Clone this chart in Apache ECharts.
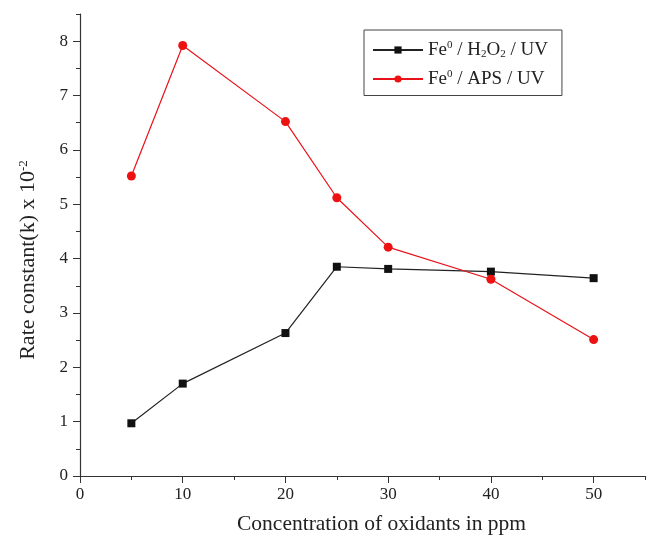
<!DOCTYPE html>
<html>
<head>
<meta charset="utf-8">
<script src="https://cdn.jsdelivr.net/npm/echarts@6/dist/echarts.min.js"></script>
<style>
  html, body { margin: 0; padding: 0; background: #fff; }
  #chart { width: 649px; height: 537px; }
</style>
</head>
<body>
<div id="chart"></div>
<script>
// oxidant concentration (ppm)
var concentration = [5, 10, 20, 25, 30, 40, 50];
// rate constants x 10^-2
var h2o2Rates = [0.97, 1.70, 2.63, 3.85, 3.81, 3.76, 3.64];
var apsRates = [5.52, 7.92, 6.52, 5.12, 4.21, 3.62, 2.51];
var xTicks = [0, 10, 20, 30, 40, 50];
var yTicks = [0, 1, 2, 3, 4, 5, 6, 7, 8];

var font = '"Liberation Serif", "Times New Roman", serif';
var chart = echarts.init(document.getElementById('chart'));

function pairs(xs, ys) {
  return xs.map(function (x, i) { return [x, ys[i]]; });
}

var axisLine = { show: true, lineStyle: { color: '#333', width: 1.2 } };
var rich = {
  a: { fontFamily: font, fontSize: 19, color: '#222' },
  sup: { fontFamily: font, fontSize: 11, color: '#222', verticalAlign: 'top', padding: [0, 0, 9, 0] },
  sub: { fontFamily: font, fontSize: 11, color: '#222', verticalAlign: 'bottom', padding: [9, 0, 0, 0] }
};

chart.setOption({
  animation: false,
  grid: { left: 80, right: 4, top: 14, bottom: 61, outerBoundsMode: 'none' },
  legend: {
    left: 364, top: 30,
    width: 198,
    orient: 'vertical',
    padding: [10, 14, 7, 8],
    itemGap: 9,
    itemWidth: 50, itemHeight: 9,
    borderColor: '#444', borderWidth: 1,
    backgroundColor: '#fff',
    data: ['h2o2', 'aps'],
    formatter: function (name) {
      if (name === 'h2o2') return '{a|Fe}{sup|0}{a| / H}{sub|2}{a|O}{sub|2}{a| / UV}';
      return '{a|Fe}{sup|0}{a| / APS / UV}';
    },
    textStyle: { rich: rich, fontFamily: font, fontSize: 19 }
  },
  xAxis: [{
    type: 'value', min: 0, max: 55,
    name: 'Concentration of oxidants in ppm',
    nameLocation: 'middle', nameGap: 37,
    nameTextStyle: { fontFamily: font, fontSize: 21.5, color: '#222', padding: [0, 0, 0, 38] },
    axisLine: axisLine,
    axisTick: { show: true, length: 7, customValues: xTicks, lineStyle: { color: '#333' } },
    axisLabel: { customValues: xTicks, fontFamily: font, fontSize: 17, color: '#222', margin: 10 },
    splitLine: { show: false }
  }, {
    type: 'value', min: 0, max: 55, interval: 5,
    position: 'bottom',
    axisLine: { show: false },
    axisTick: { show: true, length: 4, lineStyle: { color: '#333' } },
    axisLabel: { show: false },
    splitLine: { show: false }
  }],
  yAxis: [{
    type: 'value', min: 0, max: 8.5,
    name: '{a|Rate constant(k) x 10}{sup|-2}',
    nameLocation: 'middle', nameGap: 40,
    nameTextStyle: {
      padding: [0, 30, 0, 0],
      rich: {
        a: { fontFamily: font, fontSize: 22, color: '#222' },
        sup: { fontFamily: font, fontSize: 13, color: '#222', verticalAlign: 'top', padding: [0, 0, 10, 0] }
      }
    },
    axisLine: axisLine,
    axisTick: { show: true, length: 7, customValues: yTicks, lineStyle: { color: '#333' } },
    axisLabel: { customValues: yTicks, fontFamily: font, fontSize: 17, color: '#222', margin: 12 },
    splitLine: { show: false }
  }, {
    type: 'value', min: 0, max: 8.5, interval: 0.5,
    position: 'left',
    axisLine: { show: false },
    axisTick: { show: true, length: 4, lineStyle: { color: '#333' } },
    axisLabel: { show: false },
    splitLine: { show: false }
  }],
  series: [{
    name: 'h2o2',
    type: 'line',
    data: pairs(concentration, h2o2Rates),
    symbol: 'rect', symbolSize: 8,
    lineStyle: { color: '#222', width: 1.2 },
    itemStyle: { color: '#111' }
  }, {
    name: 'aps',
    type: 'line',
    data: pairs(concentration, apsRates),
    symbol: 'circle', symbolSize: 9,
    lineStyle: { color: '#e8121a', width: 1.2 },
    itemStyle: { color: '#ee1111' }
  }]
});
</script>
</body>
</html>
